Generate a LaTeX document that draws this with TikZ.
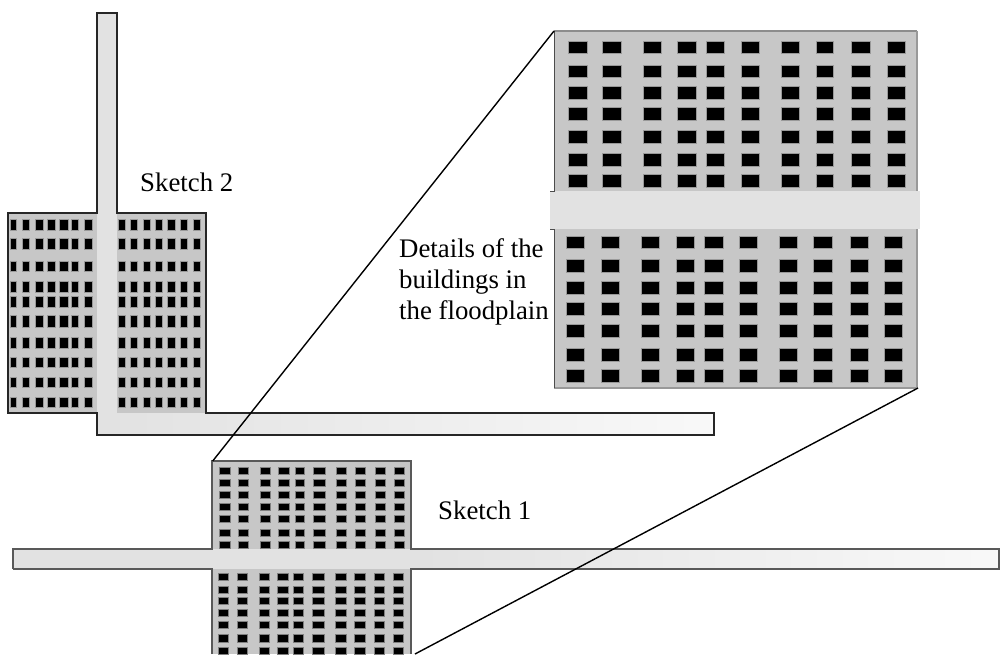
\documentclass[tikz,border=0pt]{standalone}
\usepackage{fontspec}
\setmainfont{Liberation Serif}
\newcommand{\wingrid}[3][]{%
  \foreach \xa/\xb in {#2}{\foreach \ya/\yb in {#3}{%
    \path[winbox,#1] (\xa,\ya) rectangle (\xb,\yb);}}}
\definecolor{plaincol}{gray}{0.78}
\definecolor{rivercol}{gray}{0.885}
\definecolor{riverpale}{gray}{0.975}
\tikzset{
  winbox/.style={fill=black,draw=black!40,line width=0.8pt},
  smallwin/.style={line width=1pt,draw=black!50},
  plainfill/.style={fill=plaincol,draw=none},
  riverfill/.style={fill=rivercol,draw=none},
  riverfade/.style={left color=rivercol,right color=riverpale,draw=none},
  outline/.style={draw=black!85,line width=1.5pt,line join=miter},
  outlinesoft/.style={draw=black!65,line width=1.6pt,line join=miter},
  zoomline/.style={draw=black,line width=1.4pt},
  lab/.style={font=\fontsize{26.8}{31}\selectfont,inner sep=0pt,text=black}
}
\begin{document}
\begin{tikzpicture}[x=1pt,y=-1pt]
\useasboundingbox (0,0) rectangle (1000,654);
\fill[white] (0,0) rectangle (1000,654);
% ---- Sketch 2
\path[plainfill] (8,213) rectangle (206,413);
\path[riverfill] (97,13) rectangle (117,435);
\path[riverfade] (97,413) rectangle (714,435);
\wingrid{10.7/16.7,22.7/29,35/43,47/55,59/68,71/78,84/92,118/125,130/137,143/150,155/162,167/175,180/187,193/200}
        {219/230,238/249,261/271,281/292,296/307,315/327,337/348,357/367,377/387,397/407}
\draw[outline] (97,213) -- (97,13) -- (117,13) -- (117,213) -- (206,213) -- (206,413) -- (714,413) -- (714,435) -- (97,435) -- (97,413) -- (8,413) -- (8,213) -- cycle;
% ---- Sketch 1
\path[plainfill] (212,461) rectangle (411,654);
\path[riverfill] (13,549) rectangle (411,569);
\path[riverfade] (411,549) rectangle (999,569);
\wingrid[smallwin]{219.3/230,238.3/248,260/270,278.7/289.3,295/304.3,313.3/325,336.7/346.7,355.3/365.3,375/385.3,394.7/404}
        {467.3/474.3,479.7/486.7,491.7/498.7,503.3/510.3,515.3/522.3,529.7/536.7,541/548}
\wingrid[smallwin]{218/228.7,237/247.7,259.3/269.3,277.3/288,293.7/303.7,312.3/324,335/346,354.3/365,374/384.3,393/403}
        {573.3/580.3,586.7/593.7,597.7/604.7,609.7/616.7,621.3/628.3,634/642,647.7/654}
\draw[outlinesoft] (13,569) -- (13,549) -- (212,549) -- (212,461) -- (411,461) -- (411,549) -- (999,549) -- (999,569) -- (411,569) -- (411,654);
\draw[outlinesoft] (212,654) -- (212,569) -- (13,569);
% ---- Detail view
\path[plainfill] (554,31) rectangle (917,388);
\path[riverfill] (550,191) rectangle (920,229);
\wingrid{568.7/587.3,602.7/621.3,643.3/661.3,677.7/696,706/724.7,741.3/759.7,781/799.3,816.3/833.7,851.7/870.3,887/905}
        {41/53.7,65/77.7,86.3/99,107.7/120.3,130.3/143,153.3/166,174.7/187.3}
\wingrid{566.7/584.7,601.3/619.7,641/659.3,676/694,704.7/723,739/757.3,779.7/797.7,813.7/832,850.3/868.7,884.3/902.7}
        {236/248.7,259.3/272,281.3/294,302.7/315.3,324.3/337,348.3/361,369.7/382.3}
\draw[draw=black!45,line width=1.5pt] (554,31) -- (917,31);
\draw[draw=black!40,line width=1.8pt] (917,31) -- (917,191);
\draw[draw=black!40,line width=1.8pt] (917,229) -- (917,388) -- (554,388);
\draw[draw=black!70,line width=0.9pt] (554,31) -- (554,191) -- (550,191);
\draw[draw=black!70,line width=0.9pt] (550,229) -- (554,229) -- (554,388);
% ---- Zoom lines
\coordinate (detailTL) at (554,31);
\coordinate (detailBR) at (918,388);
\coordinate (s1TL) at (212.7,461);
\coordinate (s1BR) at (415,654);
\draw[zoomline] (detailTL) -- (s1TL);
\draw[zoomline] (detailBR) -- (s1BR);
% ---- Labels
\node[lab,anchor=base west] (sketchtwo) at (140,191) {Sketch 2};
\node[lab,anchor=base west] (sketchone) at (438,519) {Sketch 1};
\node[lab,anchor=north west,align=left] (details) at (399,238) {Details of the\\buildings in\\the floodplain};
\end{tikzpicture}
\end{document}
